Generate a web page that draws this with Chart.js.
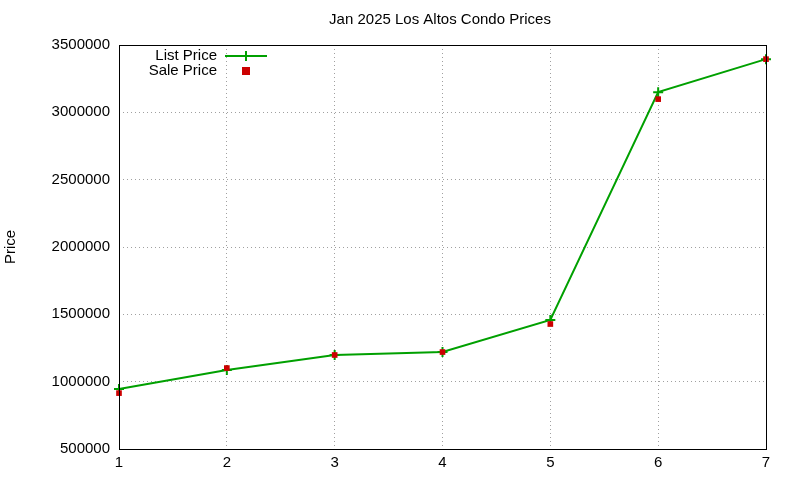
<!DOCTYPE html>
<html>
<head>
<script src="https://cdn.jsdelivr.net/npm/chart.js@4"></script>
<style>html,body{margin:0;padding:0;background:#fff}#c{width:800px;height:480px}</style>
</head>
<body>
<div id="c"><canvas id="chart" width="800" height="480"></canvas></div>
<script>
const months = [1, 2, 3, 4, 5, 6, 7];
const listPrice = [945000, 1086000, 1198000, 1220000, 1458000, 3150000, 3395000];
const salePrice = [915000, 1101000, 1198000, 1220000, 1428000, 3098000, 3395000];
const yTicks = [500000, 1000000, 1500000, 2000000, 2500000, 3000000, 3500000];

const FONT = 'Liberation Sans, Arial, sans-serif';
const green = 'rgb(0,160,0)';
const red = 'rgb(204,0,0)';

const overlay = {
  id: 'overlay',
  afterDraw(chart) {
    const c = chart.ctx, a = chart.chartArea;
    c.save();
    c.strokeStyle = '#000'; c.lineWidth = 1;
    c.strokeRect(a.left + 0.5, a.top + 0.5, a.right - a.left, a.bottom - a.top);
    c.fillStyle = '#000';
    c.font = '15px ' + FONT;
    c.textAlign = 'center'; c.textBaseline = 'middle';
    c.fillText('Jan 2025 Los Altos Condo Prices', 440, 20);
    // legend
    c.textAlign = 'right';
    c.fillText('List Price', 217, 56);
    c.fillText('Sale Price', 217, 71);
    c.strokeStyle = green; c.lineWidth = 2;
    c.beginPath(); c.moveTo(225, 56); c.lineTo(267, 56);
    c.moveTo(246, 51); c.lineTo(246, 61); c.stroke();
    c.fillStyle = red; c.fillRect(242, 67, 8, 8);
    c.restore();
  }
};

new Chart(document.getElementById('chart').getContext('2d'), {
  type: 'line',
  data: {
    labels: months,
    datasets: [{
      label: 'List Price',
      data: listPrice,
      order: 2,
      clip: false,
      borderColor: green,
      backgroundColor: green,
      borderWidth: 2,
      pointStyle: 'cross',
      pointRadius: 5,
      pointBorderWidth: 2,
      tension: 0,
      fill: false
    }, {
      label: 'Sale Price',
      data: salePrice,
      order: 1,
      clip: false,
      showLine: false,
      pointStyle: 'rect',
      pointRadius: 4,
      borderColor: red,
      backgroundColor: red,
      borderWidth: 0
    }]
  },
  options: {
    responsive: false,
    animation: false,
    layout: { padding: { top: 45, right: 34, left: 0, bottom: 0 } },
    plugins: { legend: { display: false }, title: { display: false }, tooltip: { enabled: false } },
    scales: {
      x: {
        type: 'linear', min: 1, max: 7,
        afterFit(s) { s.height = 31; },
        afterBuildTicks(s) { s.ticks = months.map(v => ({ value: v })); },
        grid: { color: '#a0a0a0', drawTicks: false },
        border: { display: false, dash: [1, 3] },
        ticks: { color: '#000', font: { size: 15, family: FONT }, padding: 5 }
      },
      y: {
        min: 500000, max: 3500000,
        afterFit(s) { s.width = 119; },
        afterBuildTicks(s) { s.ticks = yTicks.map(v => ({ value: v })); },
        grid: { color: '#a0a0a0', drawTicks: false },
        border: { display: false, dash: [1, 3] },
        title: { display: true, text: 'Price', color: '#000', font: { size: 15, family: FONT }, padding: { top: 2, bottom: 6 } },
        ticks: { color: '#000', font: { size: 15, family: FONT }, padding: 9, callback: v => String(v) }
      }
    }
  },
  plugins: [overlay]
});
</script>
</body>
</html>
